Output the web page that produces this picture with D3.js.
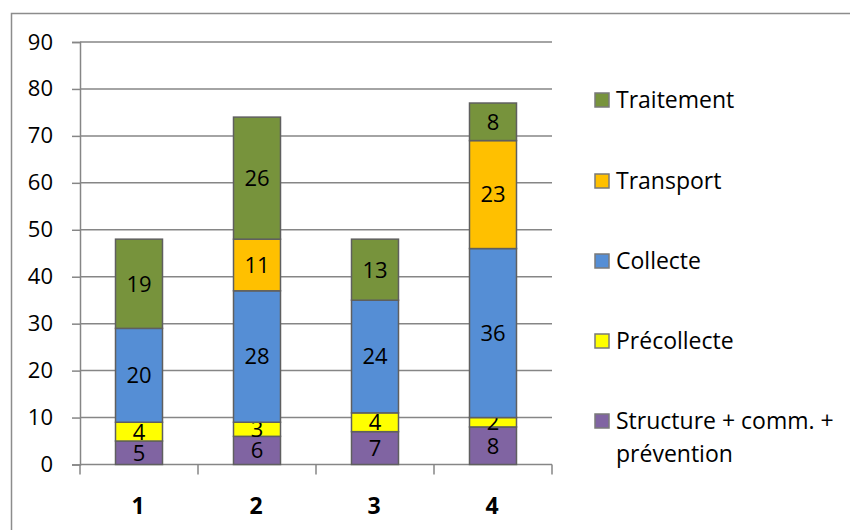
<!DOCTYPE html>
<html>
<head>
<meta charset="utf-8">
<script src="https://cdn.jsdelivr.net/npm/d3@7"></script>
<style>
  html, body { margin: 0; padding: 0; background: #fff; }
  svg { display: block; }
  text { font-family: "Open Sans", Carlito, Calibri, sans-serif; fill: #000; }
</style>
</head>
<body>
<svg id="chart" width="850" height="530"></svg>
<script>
// Categories along the x axis
const categories = ["1", "2", "3", "4"];

// Series, listed from the bottom of each stack to the top
const seriesNames = ["Structure + comm. + prévention", "Précollecte", "Collecte", "Transport", "Traitement"];
const seriesColors = ["#8064A2", "#FFFF00", "#558ED5", "#FFC000", "#77933C"];

const structure   = [5, 6, 7, 8];
const precollecte = [4, 3, 4, 2];
const collecte    = [20, 28, 24, 36];
const transport   = [0, 11, 0, 23];
const traitement  = [19, 26, 13, 8];

const yTicks = [0, 10, 20, 30, 40, 50, 60, 70, 80, 90];

const seriesValues = [structure, precollecte, collecte, transport, traitement];

const rows = categories.map((c, i) => {
  const r = { cat: c };
  seriesNames.forEach((s, k) => { r[s] = seriesValues[k][i]; });
  return r;
});

const svg = d3.select("#chart");
const FONT = 22;

// Outer frame of the chart
svg.append("rect")
  .attr("x", 11.5).attr("y", 13.5)
  .attr("width", 860).attr("height", 540)
  .attr("fill", "none").attr("stroke", "#8c8c8c").attr("stroke-width", 1.5);

const plot = { left: 80, right: 552, top: 42, bottom: 464.5 };

const x = d3.scaleBand().domain(categories).range([plot.left, plot.right]).paddingInner(0).paddingOuter(0);
const y = d3.scaleLinear().domain([0, 90]).range([plot.bottom, plot.top]);
const barW = 47;

// Horizontal gridlines
svg.append("g").selectAll("line").data(yTicks.filter(t => t > 0)).join("line")
  .attr("x1", plot.left).attr("x2", plot.right)
  .attr("y1", d => y(d)).attr("y2", d => y(d))
  .attr("stroke", "#868686").attr("stroke-width", 1.5);

// Y axis
const yAxis = svg.append("g")
  .attr("transform", `translate(${plot.left},0)`)
  .call(d3.axisLeft(y).tickValues(yTicks).tickSize(8).tickPadding(19).tickFormat(d3.format("d")));
yAxis.select(".domain").attr("stroke", "#868686").attr("stroke-width", 1.5);
yAxis.selectAll(".tick line").attr("stroke", "#868686").attr("stroke-width", 1.5);
yAxis.selectAll(".tick text").attr("font-size", FONT).attr("fill", "#000")
  .style("font-family", "'Open Sans', Carlito, Calibri, sans-serif");

// X axis with ticks between categories
const xAxis = svg.append("g").attr("transform", `translate(0,${plot.bottom})`);
xAxis.append("line")
  .attr("x1", plot.left).attr("x2", plot.right)
  .attr("stroke", "#868686").attr("stroke-width", 1.5);
const bounds = categories.map(c => x(c)).concat([plot.right]);
xAxis.selectAll(".sep").data(bounds).join("line")
  .attr("class", "sep")
  .attr("x1", d => d).attr("x2", d => d)
  .attr("y1", 0).attr("y2", 10)
  .attr("stroke", "#868686").attr("stroke-width", 1.5);
xAxis.selectAll(".lab").data(categories).join("text")
  .attr("class", "lab")
  .attr("x", d => x(d) + x.bandwidth() / 2 - 1)
  .attr("y", 49)
  .attr("text-anchor", "middle")
  .attr("font-size", 23).attr("font-weight", "bold")
  .text(d => d);

// Stacked bars
const stacked = d3.stack().keys(seriesNames)(rows);

const layers = svg.append("g").selectAll("g").data(stacked).join("g")
  .attr("fill", (d, i) => seriesColors[i]);

layers.selectAll("rect").data(d => d.filter(p => p[1] - p[0] > 0)).join("rect")
  .attr("x", d => x(d.data.cat) + x.bandwidth() / 2 - barW / 2)
  .attr("width", barW)
  .attr("y", d => y(d[1]))
  .attr("height", d => y(d[0]) - y(d[1]))
  .attr("stroke", "#5f5f5f").attr("stroke-width", 1.5);

// Value labels centred in each segment
layers.selectAll("text").data(d => d.filter(p => p[1] - p[0] > 0)).join("text")
  .attr("x", d => x(d.data.cat) + x.bandwidth() / 2)
  .attr("y", d => (y(d[0]) + y(d[1])) / 2)
  .attr("dy", "0.36em")
  .attr("text-anchor", "middle")
  .attr("fill", "#000")
  .attr("font-size", FONT)
  .text(d => d[1] - d[0]);

// Legend, top entry first
const legendOrder = seriesNames.map((s, i) => ({ name: s, color: seriesColors[i] })).reverse();
const legendY = [100, 181, 261, 341, 421];
const legend = svg.append("g").selectAll("g").data(legendOrder).join("g")
  .attr("transform", (d, i) => `translate(595,${legendY[i]})`);
legend.append("rect")
  .attr("x", 0).attr("y", -7).attr("width", 14).attr("height", 14)
  .attr("fill", d => d.color).attr("stroke", "#7a7a7a").attr("stroke-width", 1.5);
legend.append("text")
  .attr("x", 21).attr("y", 0).attr("dy", "0.36em")
  .attr("font-size", 23)
  .each(function (d) {
    const t = d3.select(this);
    if (d.name.startsWith("Structure")) {
      t.append("tspan").attr("x", 21).text("Structure + comm. +");
      t.append("tspan").attr("x", 21).attr("dy", 33).text("prévention");
    } else {
      t.text(d.name);
    }
  });
</script>
</body>
</html>
